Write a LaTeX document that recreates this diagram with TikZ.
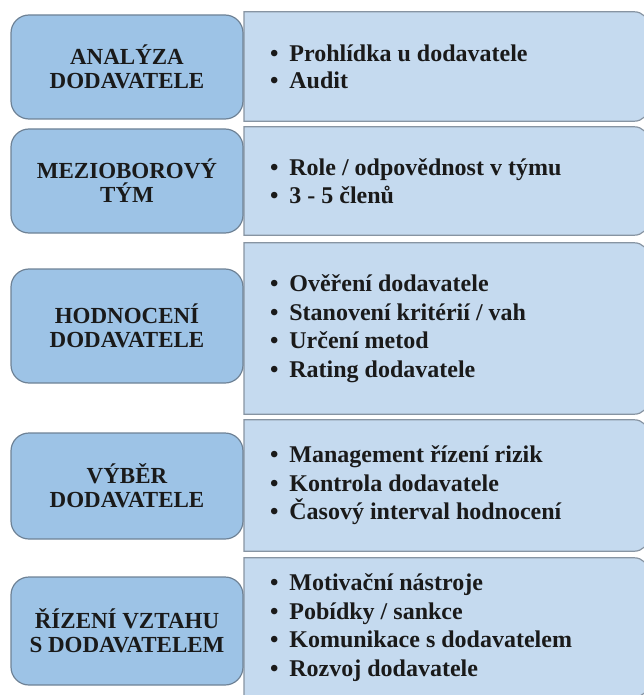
\documentclass[tikz,border=0pt]{standalone}
\usepackage{fontspec}
\setmainfont{Liberation Serif}
\begin{document}
\begin{tikzpicture}[x=1pt,y=1pt,
  titlebox/.style={draw=titleline, fill=titlefill, line width=1.2pt, rounded corners=18pt,
    minimum width=232pt, align=center, text=textdark, inner sep=0pt,
    font=\fontsize{23}{24}\selectfont\bfseries},
  listbox/.style={draw=none, rectangle, minimum width=404pt, inner sep=0pt, anchor=west},
  listtext/.style={align=left, anchor=west, inner sep=0pt, text=textdark,
    font=\fontsize{24}{28.5}\selectfont\bfseries},
  panel/.style={draw=listline, fill=listfill, line width=1.2pt}
]
\definecolor{titlefill}{HTML}{9DC3E6}
\definecolor{titleline}{HTML}{6E8296}
\definecolor{listfill}{HTML}{C5DAEF}
\definecolor{listline}{HTML}{8794A2}
\definecolor{textdark}{HTML}{1A1A1A}
\useasboundingbox (0,0) rectangle (644,-695);

% right-hand panels, square on the left, rounded on the right
\newcommand{\listpanel}[1]{%
  \draw[panel] (#1.north west) -- ([xshift=-14pt]#1.north east)
    arc[start angle=90,end angle=0,radius=14pt] -- ([yshift=14pt]#1.south east)
    arc[start angle=0,end angle=-90,radius=14pt] -- (#1.south west) -- cycle;}

\node[listbox, minimum height=109pt] (r1) at (244,-66.5) {};
\node[listbox, minimum height=108pt] (r2) at (244,-181) {};
\node[listbox, minimum height=171pt] (r3) at (244,-328.5) {};
\node[listbox, minimum height=131pt] (r4) at (244,-485.5) {};
\node[listbox, minimum height=139pt] (r5) at (244,-627.5) {};
\listpanel{r1}
\listpanel{r2}
\listpanel{r3}
\listpanel{r4}
\listpanel{r5}

\newcommand{\itm}{•\hspace{0.45em}}
\node[listtext, font=\fontsize{24}{27}\selectfont\bfseries] (t1) at (270,-66.5)
  {\itm Prohlídka u dodavatele\\ \itm Audit};
\node[listtext] (t2) at (270,-181)
  {\itm Role / odpovědnost v týmu\\ \itm 3 - 5 členů};
\node[listtext] (t3) at (270,-328.5)
  {\itm Ověření dodavatele\\ \itm Stanovení kritérií / vah\\ \itm Určení metod\\ \itm Rating dodavatele};
\node[listtext] (t4) at (270,-485.5)
  {\itm Management řízení rizik\\ \itm Kontrola dodavatele\\ \itm Časový interval hodnocení};
\node[listtext] (t5) at (270,-627.5)
  {\itm Motivační nástroje\\ \itm Pobídky / sankce\\ \itm Komunikace s dodavatelem\\ \itm Rozvoj dodavatele};

% left-hand title boxes
\node[titlebox, minimum height=104pt] (l1) at (127,-67) {ANALÝZA\\DODAVATELE};
\node[titlebox, minimum height=104pt] (l2) at (127,-181) {MEZIOBOROVÝ\\TÝM};
\node[titlebox, minimum height=114pt] (l3) at (127,-326) {HODNOCENÍ\\DODAVATELE};
\node[titlebox, minimum height=106pt] (l4) at (127,-486) {VÝBĚR\\DODAVATELE};
\node[titlebox, minimum height=108pt] (l5) at (127,-631) {ŘÍZENÍ VZTAHU\\S DODAVATELEM};
\end{tikzpicture}
\end{document}
